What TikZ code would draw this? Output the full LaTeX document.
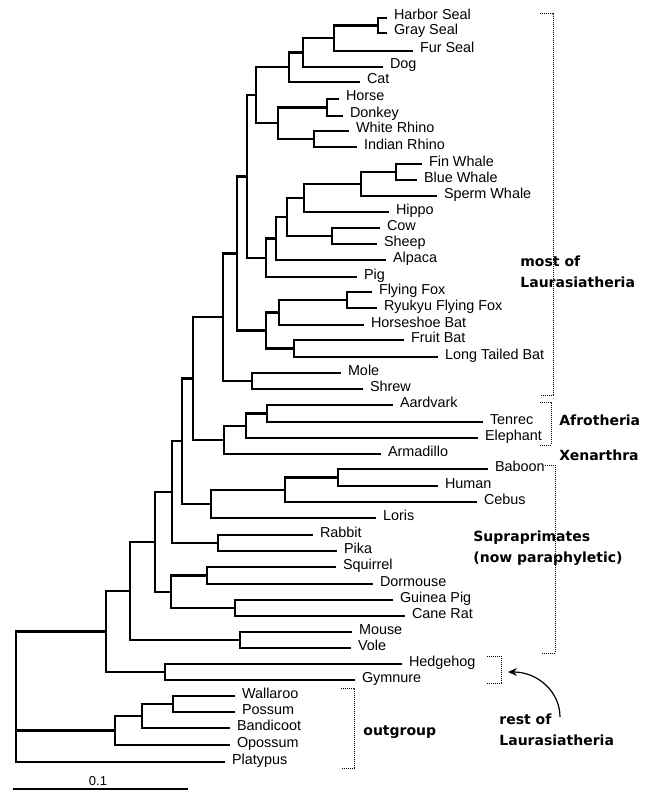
\documentclass[tikz,border=0pt]{standalone}
\usepackage{fontspec}
\setmainfont{Liberation Sans}
\newfontfamily\annfont{DejaVu Sans}
\usetikzlibrary{arrows.meta}
\tikzset{branch/.style = {line width=1.3pt},
         taxon/.style  = {anchor=west, inner xsep=3.3pt, inner ysep=0pt,
                          text height=5.5pt, text depth=3.5pt,
                          font=\fontsize{7.2}{8}\selectfont},
         clade/.style  = {anchor=west, align=left, inner sep=0pt,
                          font=\annfont\bfseries\fontsize{7}{10.3}\selectfont},
         bracket/.style = {line width=0.45pt, dash pattern=on 0.5pt off 0.5pt}}

\begin{document}
\begin{tikzpicture}[x=0.5pt, y=-0.5pt]
    \useasboundingbox (0,0) rectangle (644,792);

    % taxa
    \node[taxon] (harbor) at (387,18)  {Harbor Seal};
    \node[taxon] (gray)   at (387,33)  {Gray Seal};
    \node[taxon] (fur)    at (413,51)  {Fur Seal};
    \node[taxon] (dog)    at (383,67)  {Dog};
    \node[taxon] (cat)    at (360,82)  {Cat};
    \node[taxon] (horse)  at (339,99)  {Horse};
    \node[taxon] (donkey) at (343,116) {Donkey};
    \node[taxon] (wrhino) at (349,131) {White Rhino};
    \node[taxon] (irhino) at (357,147) {Indian Rhino};
    \node[taxon] (fin)    at (422,164) {Fin Whale};
    \node[taxon] (blue)   at (417,180) {Blue Whale};
    \node[taxon] (sperm)  at (437,196) {Sperm Whale};
    \node[taxon] (hippo)  at (389,212) {Hippo};
    \node[taxon] (cow)    at (380,228) {Cow};
    \node[taxon] (sheep)  at (377,244) {Sheep};
    \node[taxon] (alpaca) at (386,260) {Alpaca};
    \node[taxon] (pig)    at (357,277) {Pig};
    \node[taxon] (ffox)   at (372,292) {Flying Fox};
    \node[taxon] (rfox)   at (377,308) {Ryukyu Flying Fox};
    \node[taxon] (hsbat)  at (364,325) {Horseshoe Bat};
    \node[taxon] (fbat)   at (404,340) {Fruit Bat};
    \node[taxon] (ltbat)  at (438,357) {Long Tailed Bat};
    \node[taxon] (mole)   at (341,373) {Mole};
    \node[taxon] (shrew)  at (363,389) {Shrew};
    \node[taxon] (aard)   at (393,405) {Aardvark};
    \node[taxon] (tenrec) at (483,422) {Tenrec};
    \node[taxon] (eleph)  at (478,438) {Elephant};
    \node[taxon] (armad)  at (381,454) {Armadillo};
    \node[taxon] (baboon) at (488,469) {Baboon};
    \node[taxon] (human)  at (438,486) {Human};
    \node[taxon] (cebus)  at (477,502) {Cebus};
    \node[taxon] (loris)  at (376,518) {Loris};
    \node[taxon] (rabbit) at (313,535) {Rabbit};
    \node[taxon] (pika)   at (337,551) {Pika};
    \node[taxon] (squir)  at (336,567) {Squirrel};
    \node[taxon] (dorm)   at (373,584) {Dormouse};
    \node[taxon] (guinea) at (393,600) {Guinea Pig};
    \node[taxon] (cane)   at (405,616) {Cane Rat};
    \node[taxon] (mouse)  at (352,632) {Mouse};
    \node[taxon] (vole)   at (351,648) {Vole};
    \node[taxon] (hedge)  at (402,664) {Hedgehog};
    \node[taxon] (gymn)   at (355,680) {Gymnure};
    \node[taxon] (walla)  at (235,696) {Wallaroo};
    \node[taxon] (possum) at (235,712) {Possum};
    \node[taxon] (bandi)  at (230,728) {Bandicoot};
    \node[taxon] (opos)   at (230,745) {Opossum};
    \node[taxon] (platy)  at (225,762) {Platypus};

    % internal nodes
    \coordinate (hg)    at (378,25.5);
    \coordinate (hgf)   at (334,38);
    \coordinate (hgfd)  at (303,52.5);
    \coordinate (carn)  at (289,67);
    \coordinate (hd)    at (327,107.5);
    \coordinate (rhino) at (314,139);
    \coordinate (peri)  at (278,123);
    \coordinate (cp)    at (256,95);
    \coordinate (fb)    at (396,172);
    \coordinate (whale) at (361,184);
    \coordinate (whip)  at (304,198);
    \coordinate (cs)    at (332,236);
    \coordinate (rum)   at (287,217);
    \coordinate (alp)   at (276,238.5);
    \coordinate (cet)   at (266,258);
    \coordinate (fer)   at (247,176.5);
    \coordinate (ff)    at (347,300);
    \coordinate (pter)  at (279,312.5);
    \coordinate (fl)    at (294,348.5);
    \coordinate (bats)  at (266,330.5);
    \coordinate (scro)  at (237,253.5);
    \coordinate (ms)    at (252,381);
    \coordinate (laur)  at (223,317);
    \coordinate (aten)  at (267,413.5);
    \coordinate (afro)  at (246,426);
    \coordinate (ax)    at (224,440);
    \coordinate (lax)   at (193,378.5);
    \coordinate (bh)    at (338,477.5);
    \coordinate (anth)  at (285,490);
    \coordinate (prim)  at (211,504);
    \coordinate (lp)    at (182,441);
    \coordinate (rp)    at (218,543);
    \coordinate (lpr)   at (172,492);
    \coordinate (sd)    at (207,575.5);
    \coordinate (gc)    at (235,608);
    \coordinate (rod)   at (171,592);
    \coordinate (lr)    at (155,542);
    \coordinate (mv)    at (240,640);
    \coordinate (lrm)   at (130,591);
    \coordinate (hgy)   at (165,672);
    \coordinate (euth)  at (106,631.5);
    \coordinate (wp)    at (173,704);
    \coordinate (wpb)   at (142,716);
    \coordinate (mars)  at (115,730.5);
    \coordinate (root)  at (16,696);

    % branches
    \draw[branch] (harbor.west) -| (hg) |- (gray.west);
    \draw[branch] (hg) -| (hgf) |- (fur.west);
    \draw[branch] (hgf) -| (hgfd) |- (dog.west);
    \draw[branch] (hgfd) -| (carn) |- (cat.west);
    \draw[branch] (horse.west) -| (hd) |- (donkey.west);
    \draw[branch] (wrhino.west) -| (rhino) |- (irhino.west);
    \draw[branch] (hd) -| (peri) |- (rhino);
    \draw[branch] (carn) -| (cp) |- (peri);
    \draw[branch] (fin.west) -| (fb) |- (blue.west);
    \draw[branch] (fb) -| (whale) |- (sperm.west);
    \draw[branch] (whale) -| (whip) |- (hippo.west);
    \draw[branch] (cow.west) -| (cs) |- (sheep.west);
    \draw[branch] (whip) -| (rum) |- (cs);
    \draw[branch] (rum) -| (alp) |- (alpaca.west);
    \draw[branch] (alp) -| (cet) |- (pig.west);
    \draw[branch] (cp) -| (fer) |- (cet);
    \draw[branch] (ffox.west) -| (ff) |- (rfox.west);
    \draw[branch] (ff) -| (pter) |- (hsbat.west);
    \draw[branch] (fbat.west) -| (fl) |- (ltbat.west);
    \draw[branch] (pter) -| (bats) |- (fl);
    \draw[branch] (fer) -| (scro) |- (bats);
    \draw[branch] (mole.west) -| (ms) |- (shrew.west);
    \draw[branch] (scro) -| (laur) |- (ms);
    \draw[branch] (aard.west) -| (aten) |- (tenrec.west);
    \draw[branch] (aten) -| (afro) |- (eleph.west);
    \draw[branch] (afro) -| (ax) |- (armad.west);
    \draw[branch] (laur) -| (lax) |- (ax);
    \draw[branch] (baboon.west) -| (bh) |- (human.west);
    \draw[branch] (bh) -| (anth) |- (cebus.west);
    \draw[branch] (anth) -| (prim) |- (loris.west);
    \draw[branch] (lax) -| (lp) |- (prim);
    \draw[branch] (rabbit.west) -| (rp) |- (pika.west);
    \draw[branch] (lp) -| (lpr) |- (rp);
    \draw[branch] (squir.west) -| (sd) |- (dorm.west);
    \draw[branch] (guinea.west) -| (gc) |- (cane.west);
    \draw[branch] (sd) -| (rod) |- (gc);
    \draw[branch] (lpr) -| (lr) |- (rod);
    \draw[branch] (mouse.west) -| (mv) |- (vole.west);
    \draw[branch] (lr) -| (lrm) |- (mv);
    \draw[branch] (hedge.west) -| (hgy) |- (gymn.west);
    \draw[branch] (lrm) -| (euth) |- (hgy);
    \draw[branch] (walla.west) -| (wp) |- (possum.west);
    \draw[branch] (wp) -| (wpb) |- (bandi.west);
    \draw[branch] (wpb) -| (mars) |- (opos.west);
    \draw[branch] (euth) -| (root) |- (platy.west);
    \draw[branch] (root |- mars) -- (mars);

    % dotted brackets
    \draw[bracket] (540,13) -- (553,13) -- (553,395) -- (540,395);
    \draw[bracket] (540,402) -- (551,402) -- (551,445) -- (540,445);
    \draw[bracket] (545,465) -- (555,465) -- (555,653) -- (541,653);
    \draw[bracket] (487,656) -- (501,656) -- (501,683) -- (487,683);
    \draw[bracket] (341,688) -- (354,688) -- (354,768) -- (341,768);

    % clade labels
    \node[clade] (mostlaur) at (520,272) {most of\\Laurasiatheria};
    \node[clade] (afrolab)  at (559,420) {Afrotheria};
    \node[clade] (xenlab)   at (559,455) {Xenarthra};
    \node[clade] (supra)    at (473,548) {Supraprimates\\(now paraphyletic)};
    \node[clade] (outlab)   at (363,732) {outgroup};
    \node[clade] (restlab)  at (499,729.5) {rest of\\Laurasiatheria};

    \coordinate (arrS) at (560,717);
    \coordinate (arrE) at (508,672);
    \draw[-{Stealth[length=4.5pt,width=4pt]}, line width=0.6pt]
        (arrS) .. controls (560,692) and (538,672) .. (arrE);

    % scale bar
    \draw[line width=1.1pt] (13,789) -- (188,789);
    \node[font=\fontsize{6.5}{7}\selectfont] (scale) at (98,781) {0.1};
\end{tikzpicture}
\end{document}
